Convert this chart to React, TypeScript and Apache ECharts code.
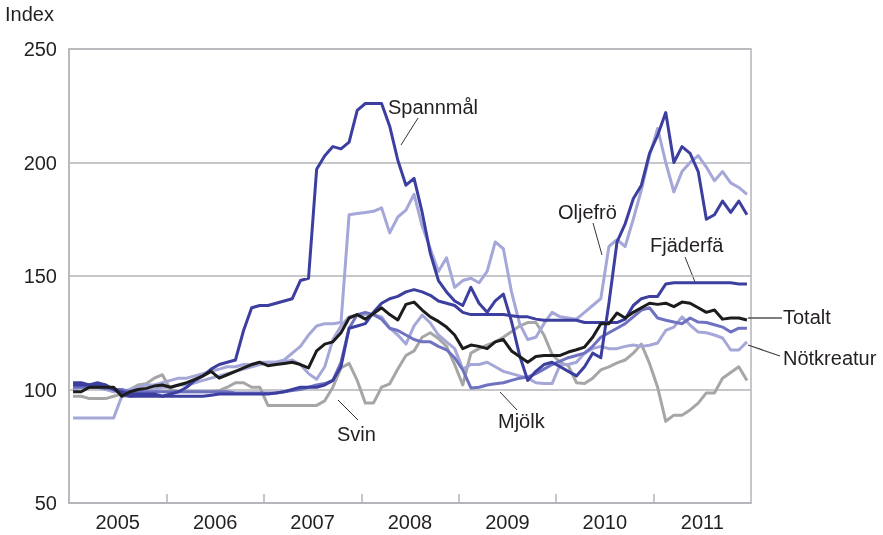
import React, { useEffect, useRef } from 'react';
import * as echarts from 'echarts';

const years = ['2005', '2006', '2007', '2008', '2009', '2010', '2011'];
const yMin = 50;
const yMax = 250;
const yStep = 50;

// Monthly index values, Jan 2005 – Dec 2011
const spannmal = [
  103, 103, 102, 103, 102, 100, 98, 97, 97, 97, 97, 97,
  98, 99, 101, 104, 106, 109, 111, 112, 113, 126, 136, 137,
  137, 138, 139, 140, 148, 149, 197, 203, 207, 206, 209, 223,
  226, 226, 226, 216, 201, 190, 193, 178, 160, 148, 143, 139,
  137, 145, 138, 134, 139, 142, 130, 115, 104, 108, 111, 112,
  110, 108, 106, 110, 116, 114, 138, 165, 173, 184, 190, 204,
  212, 222, 200, 207, 204, 196, 175, 177, 183, 178, 183, 177,
];
const oljefro = [
  100, 101, 101, 101, 100, 99, 99, 100, 101, 102, 102, 103,
  104, 105, 105, 106, 107, 108, 109, 110, 110, 111, 111, 112,
  112, 112, 113, 116, 119, 124, 128, 129, 129, 129.5, 177, 177.5,
  178, 178.5, 180, 169, 176, 179, 186, 172, 162, 152, 158, 145,
  148, 149, 147, 152, 165, 162, 143, 129, 122, 123, 129, 134,
  132, 131.5, 131, 134, 137, 140, 163, 166, 163, 175, 188, 203,
  215, 200, 187, 196, 200, 203, 198, 192, 196, 191, 189, 186,
];
const fjaderfa = [
  102, 102, 102, 102, 102, 100, 99, 98, 98, 98, 98, 97,
  97, 97, 97, 97, 97, 97.5, 98, 98, 98, 98, 98, 98,
  98, 98.5, 99, 100, 101, 101, 101, 102, 104, 110, 127, 128,
  129, 134, 138, 140, 141, 143, 144, 143, 141.5, 139, 138, 137,
  134, 133, 133, 133, 133, 133, 132.5, 132, 132, 131, 130.5, 130.5,
  130.5, 130.5, 130.5, 129.5, 129.5, 129.5, 129.5, 129.5, 131, 137, 140, 141,
  141, 146.5, 147, 147, 147, 147, 147, 147, 147, 147, 146.5, 146.5,
];
const totalt = [
  99, 99, 101, 101, 101, 101, 97, 99, 100, 100.5, 101.5, 102,
  101, 102, 103, 104.5, 106, 108, 105, 106.5, 108, 109.5, 111, 112,
  110.5, 111, 111.5, 112, 111, 109.5, 117, 120, 121, 125, 131.5, 133,
  131, 133.5, 136, 133, 130.6, 137.5, 138.5, 135, 132, 130, 127.5, 124,
  118, 119.6, 119, 118, 121, 122, 117, 114.5, 112, 114.5, 115, 115,
  115, 116.5, 117.5, 118.7, 123, 129, 129, 133.7, 131.5, 134, 136, 138,
  137.5, 138, 136.5, 138.5, 138, 136, 134, 135, 131, 131.5, 131.5, 130.6,
];
const notkreatur = [
  87.5, 87.5, 87.5, 87.5, 87.5, 87.5, 97, 97, 97.5, 99.5, 100, 101,
  101, 102, 102, 103, 104, 105, 106, 107, 108, 109, 110, 111,
  112, 112, 112, 113, 111, 107, 104.5, 110, 122, 128, 132, 133,
  133, 133, 132, 127, 124, 120, 128, 132.8, 129.3, 124, 121, 118,
  109, 111, 111, 112, 110, 108, 107, 106, 105, 103, 102.6, 102.6,
  111, 111, 112, 116, 118, 119, 118, 118, 119, 119.6, 119, 119.5,
  120.5, 126, 127.5, 132, 128.4, 125.3, 125, 124, 122.7, 117.4, 117.4, 121,
];
const mjolk = [
  101, 101, 101, 101, 100.5, 100, 100, 99, 99, 99, 99, 99,
  99, 99, 99, 99, 99, 99, 99, 99, 98.5, 98.5, 98.5, 98.5,
  98.5, 98.5, 99, 99.5, 100, 101, 102, 102.6, 104, 112, 127, 133,
  134, 133, 131, 127, 126, 124, 122, 121, 121, 119, 117.5, 114,
  108.6, 100.7, 101, 102, 102.5, 103, 104, 105, 105.5, 107, 109, 111,
  112.5, 114, 115, 116, 119, 123, 125, 127, 129, 132, 135, 136,
  131.5, 130.5, 129.7, 129, 131.5, 129.7, 129.5, 128.5, 127.5, 125.3, 127, 127,
];
const svin = [
  97, 97, 96, 96, 96, 97, 98, 100, 102, 102.5, 105, 106.5,
  100, 99, 99, 99, 99, 99, 99.5, 101, 103, 103, 101, 101,
  93, 93, 93, 93, 93, 93, 93, 95, 101, 109.5, 111.5, 104,
  94, 94, 101, 102.5, 109, 115, 117, 123, 125, 122.5, 119, 111,
  102, 116, 118, 119.5, 121, 123, 125.5, 128, 129.5, 129.5, 124, 115.5,
  112, 110.5, 103, 102.6, 105, 108.6, 110, 111.7, 113, 116, 120, 111.5,
  101, 86, 88.7, 88.7, 91, 94, 98.5, 98.5, 105, 107.5, 110, 104,
];

const FONT = '"Liberation Sans", Arial, Helvetica, sans-serif';
const TEXT = '#231f20';
const AXIS = '#b4b4ba';
const DARK = '#3c3f9f';
const MID = '#6f72c1';
const LIGHT = '#a4a7d7';
const GREY = '#a6a6a6';
const BLACK = '#1c1c1c';

const pts = (arr: number[]) => arr.map((v, i) => [i + 0.5, v]);

export default function App() {
  const ref = useRef<HTMLDivElement>(null);
  useEffect(() => {
    if (!ref.current) return;
    const chart = echarts.init(ref.current, null, { renderer: 'svg' });
    const months = years.length * 12;
    const mk = (name: string, data: number[], color: string, z: number) => ({
      name,
      type: 'line',
      data: pts(data),
      showSymbol: false,
      symbol: 'none',
      z,
      lineStyle: { color, width: 3, join: 'round' },
      itemStyle: { color },
      silent: true,
    });
    const label = (text: string, x: number, y: number) => ({
      type: 'text',
      x,
      y,
      style: { text, fill: TEXT, font: `20px ${FONT}`, verticalAlign: 'middle', align: 'left' },
    });
    const pointer = (x1: number, y1: number, x2: number, y2: number, stroke = '#333', w = 1) => ({
      type: 'line',
      shape: { x1, y1, x2, y2 },
      style: { stroke, lineWidth: w },
    });
    chart.setOption({
      animation: false,
      grid: {
        left: 69, right: 132, top: 49, bottom: 32,
        show: true, borderColor: AXIS, borderWidth: 1.5, backgroundColor: 'transparent',
      },
      xAxis: {
        type: 'value',
        min: 0,
        max: months,
        axisLine: { show: true, lineStyle: { color: AXIS, width: 1.5 } },
        axisTick: {
          show: true, inside: true, length: 9,
          customValues: years.slice(1).map((_, i) => (i + 1) * 12),
          lineStyle: { color: AXIS, width: 1.5 },
        },
        axisLabel: {
          customValues: years.map((_, i) => i * 12 + 6),
          formatter: (v: number) => years[Math.floor(v / 12)] ?? '',
          fontSize: 20, fontFamily: FONT, color: TEXT, margin: 9,
        },
        splitLine: { show: false },
      },
      yAxis: {
        type: 'value',
        min: yMin, max: yMax, interval: yStep,
        axisLine: { show: true, lineStyle: { color: AXIS, width: 1.5 } },
        axisTick: { show: false },
        axisLabel: { fontSize: 20, fontFamily: FONT, color: TEXT, margin: 12 },
        splitLine: { show: true, lineStyle: { color: AXIS, width: 1.5 } },
      },
      series: [
        mk('Svin', svin, GREY, 2),
        mk('Nötkreatur', notkreatur, LIGHT, 3),
        mk('Oljefrö', oljefro, LIGHT, 4),
        mk('Mjölk', mjolk, MID, 5),
        mk('Fjäderfä', fjaderfa, DARK, 6),
        mk('Spannmål', spannmal, DARK, 7),
        mk('Totalt', totalt, BLACK, 8),
      ],
      graphic: [
        label('Index', 5, 14),
        label('Spannmål', 388, 107),
        pointer(418, 118, 401, 145),
        label('Oljefrö', 558, 212),
        pointer(593, 223, 602, 255),
        label('Fjäderfä', 650, 245),
        pointer(685, 257, 695, 282),
        label('Totalt', 783, 317),
        pointer(748, 318, 782, 318, '#555', 1.5),
        label('Nötkreatur', 783, 358),
        pointer(748, 345, 780, 356, '#444', 1.2),
        label('Mjölk', 498, 421),
        pointer(500, 392, 517, 410),
        label('Svin', 337, 434),
        pointer(338, 400, 358, 420),
      ],
    });
    return () => chart.dispose();
  }, []);
  return <div ref={ref} style={{ position: 'fixed', left: 0, top: 0, width: 883, height: 535 }} />;
}
